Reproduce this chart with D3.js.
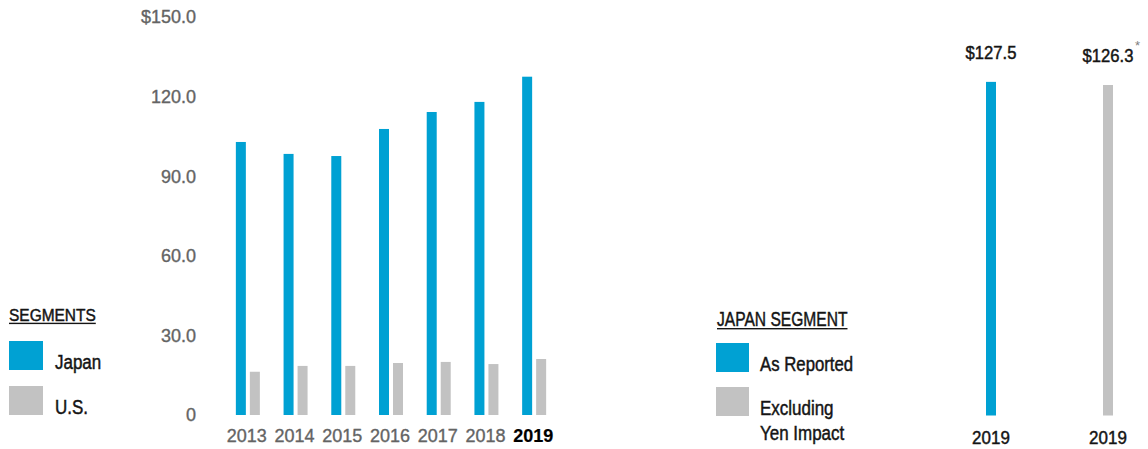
<!DOCTYPE html>
<html>
<head>
<meta charset="utf-8">
<script src="https://cdn.jsdelivr.net/npm/d3@7"></script>
<style>
  html, body { margin: 0; padding: 0; background: #fff; }
  svg { display: block; }
  text { font-family: "Liberation Sans", Arial, Helvetica, sans-serif; }
</style>
</head>
<body>
<svg id="chart" width="1148" height="449"></svg>
<script>
// Net sales by segment ($ billions)
const years = ["2013", "2014", "2015", "2016", "2017", "2018", "2019"];
const japanSales = [102.9, 98.4, 97.6, 107.8, 114.2, 118.0, 127.5];
const usSales = [16.3, 18.5, 18.5, 19.6, 20.0, 19.2, 21.1];
const yTickValues = [0, 30, 60, 90, 120, 150];
const segmentNames = ["Japan", "U.S."];

// Japan segment, 2019: as reported vs. excluding yen impact
const japanViews = ["As Reported", "Excluding Yen Impact"];
const japanViewValues = [127.5, 126.3];
const japanViewYear = "2019";

const BLUE = "#00a1d3";
const GRAY = "#c2c2c2";
const AXIS_TEXT = "#646464";
const INK = "#141414";

const svg = d3.select("#chart");

// Text helper: places a string with an optional horizontal condense factor
// and a thin same-colour outline to give a medium weight
function txt(parent, o) {
  const fill = o.fill || INK;
  const t = parent.append("text")
    .attr("transform", `translate(${o.x},${o.y}) scale(${o.sx || 1},1)`)
    .attr("text-anchor", o.anchor || "start")
    .attr("font-size", o.size)
    .attr("font-weight", o.weight || "normal")
    .attr("fill", fill)
    .attr("stroke", fill)
    .attr("stroke-width", o.stroke === undefined ? 0.45 : o.stroke)
    .text(o.text);
  return t;
}

// ---------- Left panel: segments by year ----------
const y = d3.scaleLinear().domain([0, 150]).range([415, 17]);
const x0 = d3.scaleBand().domain(years).range([224, 558]);
const x1 = d3.scaleBand().domain(segmentNames).range([0, 24]).paddingInner(4 / 14);
const groupOffset = (x0.bandwidth() - 24) / 2;

const left = svg.append("g");

// y-axis tick labels
const yAxis = d3.axisLeft(y)
  .tickValues(yTickValues)
  .tickSize(0)
  .tickPadding(0)
  .tickFormat(d => d === 0 ? "0" : (d === 150 ? "$" : "") + d3.format(".1f")(d));
const yAxisG = left.append("g").attr("transform", "translate(196,0)").call(yAxis);
yAxisG.select(".domain").remove();
yAxisG.selectAll("text")
  .attr("font-family", "'Liberation Sans', Arial, sans-serif")
  .attr("font-size", 18)
  .attr("fill", AXIS_TEXT)
  .attr("stroke", AXIS_TEXT)
  .attr("stroke-width", 0.35)
  .attr("dy", "0.33em");

// bars
const rows = years.map((yr, i) => ({ year: yr, values: [
  { key: "Japan", v: japanSales[i], color: BLUE },
  { key: "U.S.", v: usSales[i], color: GRAY }
]}));

const groups = left.selectAll("g.year").data(rows).join("g")
  .attr("class", "year")
  .attr("transform", d => `translate(${x0(d.year) + groupOffset},0)`);

groups.selectAll("rect").data(d => d.values).join("rect")
  .attr("x", d => x1(d.key))
  .attr("width", x1.bandwidth())
  .attr("y", d => y(d.v))
  .attr("height", d => y(0) - y(d.v))
  .attr("fill", d => d.color);

// x-axis year labels
const xAxis = d3.axisBottom(x0).tickSize(0).tickPadding(0);
const xAxisG = left.append("g").attr("transform", "translate(-1,441.5)").call(xAxis);
xAxisG.select(".domain").remove();
xAxisG.selectAll("text")
  .attr("font-family", "'Liberation Sans', Arial, sans-serif")
  .attr("font-size", 18)
  .attr("dy", 0)
  .attr("fill", d => d === "2019" ? "#000" : AXIS_TEXT)
  .attr("stroke", d => d === "2019" ? "#000" : AXIS_TEXT)
  .attr("stroke-width", d => d === "2019" ? 0.2 : 0.35)
  .attr("font-weight", d => d === "2019" ? "bold" : "normal");

// legend: SEGMENTS
const legL = svg.append("g");
const segTitle = txt(legL, { x: 9, y: 320.7, text: "SEGMENTS", size: 16.3, sx: 0.95 });
const segW = segTitle.node().getComputedTextLength() * 0.95;
legL.append("rect").attr("x", 9).attr("y", 322.7).attr("width", segW).attr("height", 1.4).attr("fill", INK);
[BLUE, GRAY].forEach((c, i) => {
  legL.append("rect").attr("x", 9).attr("y", 341 + i * 45).attr("width", 34).attr("height", 29).attr("fill", c);
  txt(legL, { x: 55, y: 369 + i * 44.5, text: segmentNames[i], size: 19.5, sx: 0.87 });
});

// ---------- Right panel: Japan segment 2019 ----------
const yR = d3.scaleLinear().domain([0, 150]).range([415.5, 23]);
const xR = d3.scalePoint().domain(japanViews).range([991, 1108]);
const right = svg.append("g");

right.selectAll("rect.jv").data(japanViews).join("rect")
  .attr("class", "jv")
  .attr("x", d => xR(d) - 5)
  .attr("width", 10)
  .attr("y", (d, i) => yR(japanViewValues[i]))
  .attr("height", (d, i) => yR(0) - yR(japanViewValues[i]))
  .attr("fill", (d, i) => i === 0 ? BLUE : GRAY);

// value labels
japanViews.forEach((d, i) => {
  const t = txt(right, {
    x: xR(d), y: yR(japanViewValues[i]) - 23,
    text: "$" + d3.format(".1f")(japanViewValues[i]),
    size: 17.5, sx: 0.95, anchor: "middle"
  });
  if (i === 1) {
    const w = t.node().getComputedTextLength() * 0.95;
    txt(right, { x: xR(d) + w / 2 + 1.5, y: yR(japanViewValues[i]) - 35, text: "*", size: 13, fill: "#808080", stroke: 0 });
  }
  txt(right, { x: xR(d), y: 443.5, text: japanViewYear, size: 17.7, sx: 0.96, anchor: "middle" });
});

// legend: JAPAN SEGMENT
const legR = svg.append("g");
const jTitle = txt(legR, { x: 717, y: 326, text: "JAPAN SEGMENT", size: 19.5, sx: 0.8 });
const jW = jTitle.node().getComputedTextLength() * 0.8;
legR.append("rect").attr("x", 717).attr("y", 328).attr("width", jW).attr("height", 1.4).attr("fill", INK);
legR.append("rect").attr("x", 716).attr("y", 343).attr("width", 33).attr("height", 29).attr("fill", BLUE);
legR.append("rect").attr("x", 716).attr("y", 387).attr("width", 33).attr("height", 29).attr("fill", GRAY);
txt(legR, { x: 760, y: 371, text: "As Reported", size: 19.5, sx: 0.86 });
txt(legR, { x: 760, y: 415, text: "Excluding", size: 19.5, sx: 0.87 });
txt(legR, { x: 760, y: 440, text: "Yen Impact", size: 19.5, sx: 0.87 });
</script>
</body>
</html>
